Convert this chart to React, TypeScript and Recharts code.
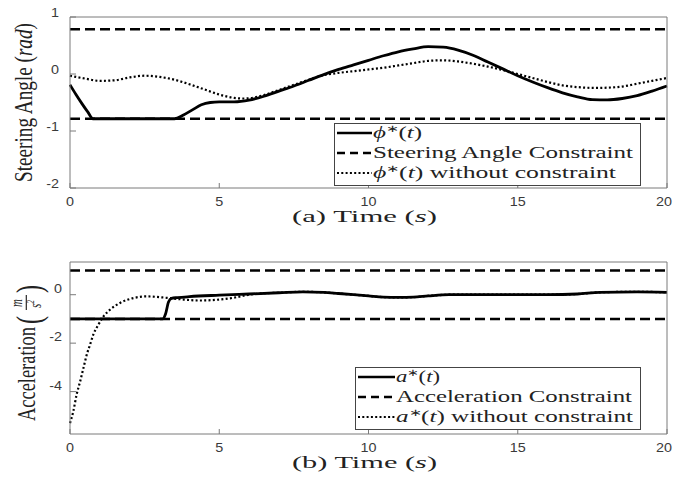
import React from 'react';
import { LineChart, Line, XAxis, YAxis, ReferenceLine, Legend } from 'recharts';

const timeTicks = [0, 5, 10, 15, 20];

// (a) steering angle, rad
const steerTime = [0, 0.2, 0.4, 0.6, 0.77, 1.5, 2.5, 3.5, 3.8, 4.1, 4.4, 4.7, 5.0, 5.5, 6.0, 6.5, 7.0, 7.5, 8.0, 8.5, 9.0, 9.5, 10.0, 10.5, 11.0, 11.5, 12.0, 12.5, 13.0, 13.5, 14.0, 14.5, 15.0, 15.5, 16.0, 16.5, 17.0, 17.5, 18.0, 18.5, 19.0, 19.5, 20.0];
const steerOpt = [-0.19, -0.36, -0.52, -0.67, -0.785, -0.785, -0.785, -0.785, -0.72, -0.63, -0.54, -0.5, -0.49, -0.49, -0.46, -0.39, -0.3, -0.21, -0.11, -0.01, 0.08, 0.16, 0.24, 0.32, 0.39, 0.44, 0.48, 0.47, 0.42, 0.33, 0.21, 0.09, -0.03, -0.14, -0.24, -0.33, -0.4, -0.45, -0.455, -0.43, -0.38, -0.3, -0.21];
const steerFreeTime = [0, 0.5, 1.0, 1.5, 2.0, 2.5, 3.0, 3.5, 4.0, 4.5, 5.0, 5.5, 5.8, 6.2, 6.5, 7.0, 7.5, 8.0, 8.5, 9.0, 9.5, 10.0, 10.5, 11.0, 11.5, 12.0, 12.5, 13.0, 13.5, 14.0, 14.5, 15.0, 15.5, 16.0, 16.5, 17.0, 17.6, 18.0, 18.5, 19.0, 19.5, 20.0];
const steerFree = [-0.03, -0.08, -0.12, -0.11, -0.06, -0.03, -0.05, -0.1, -0.18, -0.27, -0.36, -0.42, -0.43, -0.41, -0.37, -0.28, -0.19, -0.1, -0.02, 0.02, 0.05, 0.08, 0.11, 0.15, 0.19, 0.23, 0.24, 0.22, 0.18, 0.13, 0.07, 0.0, -0.07, -0.14, -0.2, -0.23, -0.245, -0.24, -0.22, -0.17, -0.12, -0.07];
const steerLimits = [0.785, -0.785];
const steerTicks = [-2, -1, 0, 1];

// (b) acceleration, m/s^2
const accTime = [0, 3.1, 3.2, 3.3, 3.4, 3.6, 4.0, 5.0, 6.0, 7.0, 7.8, 8.5, 9.0, 10.0, 10.5, 11.0, 11.5, 12.0, 12.7, 14.0, 16.0, 17.0, 17.75, 19.0, 20.0];
const accOpt = [-1, -1, -0.8, -0.3, -0.15, -0.12, -0.08, -0.02, 0.03, 0.08, 0.12, 0.1, 0.05, -0.05, -0.1, -0.11, -0.1, -0.05, 0, 0, 0, 0.03, 0.1, 0.12, 0.1];
const accFreeTime = [0, 0.11, 0.22, 0.34, 0.45, 0.56, 0.67, 0.78, 0.95, 1.12, 1.34, 1.68, 2.12, 2.57, 3.25, 3.8, 4.36, 5.0, 5.46, 6.0, 6.5, 7.0, 7.8, 8.5, 9.0, 10.0, 10.5, 11.0, 11.5, 12.0, 12.7, 14.0, 16.0, 17.0, 17.75, 19.0, 20.0];
const accFree = [-5.3, -4.82, -4.13, -3.58, -3.03, -2.48, -2.07, -1.65, -1.24, -0.9, -0.62, -0.34, -0.14, -0.07, -0.13, -0.2, -0.24, -0.2, -0.13, 0.0, 0.06, 0.08, 0.12, 0.1, 0.05, -0.05, -0.1, -0.11, -0.1, -0.05, 0, 0, 0, 0.03, 0.1, 0.12, 0.1];
const accLimits = [1, -1];
const accTicks = [-4, -2, 0];

const zip = (ts: number[], vs: number[]) => ts.map((t, i) => ({ t, v: vs[i] }));

const AXIS = '#7a7a7a';
const TXT = '#3a3a3a';
const INK = '#222';
const SANS = '"Liberation Sans", Arial, sans-serif';
const SERIF = '"Liberation Serif", "Times New Roman", serif';
const DASH = '10 5';
const DOT = '2 2.3';

const BottomTick = ({ x, y, payload }: any) => {
  // the last label sits on the page edge, nudge it in a little
  const dx = payload.value === 20 ? -3 : 0;
  return (
    <g>
      <line x1={x} y1={y} x2={x} y2={y - 5} stroke={AXIS} />
      <text transform={`translate(${x + dx} ${y + 18}) scale(1.15 1)`} textAnchor="middle" fontFamily={SANS} fontSize={12.5} fill={TXT}>
        {payload.value}
      </text>
    </g>
  );
};
const TopTick = ({ x, y }: any) => <line x1={x} y1={y} x2={x} y2={y + 5} stroke={AXIS} />;
const leftTick = (gap: number, lift: number) => ({ x, y, payload }: any) => (
  <g>
    <line x1={x} y1={y} x2={x + 6} y2={y} stroke={AXIS} />
    <text transform={`translate(${x - gap} ${y - lift}) scale(1.15 1)`} textAnchor="end" fontFamily={SANS} fontSize={12.5} fill={TXT}>
      {payload.value}
    </text>
  </g>
);
const RightTick = ({ x, y }: any) => <line x1={x} y1={y} x2={x - 6} y2={y} stroke={AXIS} />;

const xTitle = (tag: string) => (props: any) => {
  const { x, y, width } = props.viewBox;
  return (
    <text x={x + width / 2 - 4} y={y + 34} textAnchor="middle" textLength={145} lengthAdjust="spacingAndGlyphs" fontFamily={SERIF} fontSize={16} fill={INK}>
      ({tag}) Time (<tspan fontStyle="italic">s</tspan>)
    </text>
  );
};

const SteerTitle = (props: any) => {
  const { y, height } = props.viewBox;
  return (
    <g transform={`translate(32 ${y + height / 2}) rotate(-90) scale(1 1.45)`}>
      <text x={0} y={0} textAnchor="middle" textLength={159} lengthAdjust="spacingAndGlyphs" fontFamily={SERIF} fontSize={18} fill={INK}>
        Steering Angle (<tspan fontStyle="italic">rad</tspan>)
      </text>
    </g>
  );
};

const AccTitle = (props: any) => {
  const { y, height } = props.viewBox;
  return (
    <g transform={`translate(35 ${y + height / 2 + 2}) rotate(-90) scale(1 1.45)`} fontFamily={SERIF} fill={INK}>
      <text x={-71} y={0} textLength={94} lengthAdjust="spacingAndGlyphs" fontSize={18}>Acceleration</text>
      <text x={26} y={4} fontSize={24}>(</text>
      <text x={47} y={-9} fontSize={11} fontStyle="italic" textAnchor="middle">m</text>
      <line x1={40} x2={55} y1={-6} y2={-6} stroke={INK} strokeWidth={0.8} />
      <text x={46} y={4} fontSize={11} fontStyle="italic" textAnchor="middle">
        s<tspan fontSize={7.5} dy={-4.5}>2</tspan>
      </text>
      <text x={57} y={4} fontSize={24}>)</text>
    </g>
  );
};

type Row = { dash?: string; label: React.ReactNode; w: number };

const legendBox = (rows: Row[], boxW: number, lineX: [number, number], textX: number) => () => (
  <svg width={boxW} height={63} style={{ display: 'block' }}>
    <rect x={0.5} y={0.5} width={boxW - 1} height={62} fill="#fff" stroke="#444" strokeWidth={1} />
    {rows.map((r, i) => (
      <g key={i}>
        <line x1={lineX[0]} x2={lineX[1]} y1={10 + i * 20} y2={10 + i * 20} stroke="#000" strokeWidth={r.dash === DOT ? 2.2 : 2.5} strokeDasharray={r.dash} />
        <text x={textX} y={15 + i * 20} textLength={r.w} lengthAdjust="spacingAndGlyphs" fontFamily={SERIF} fontSize={16} fill={INK}>
          {r.label}
        </text>
      </g>
    ))}
  </svg>
);

const star = (sym: string) => (
  <>
    <tspan fontStyle="italic">{sym}</tspan>
    <tspan fontSize={10} dy={-6}>∗</tspan>
    <tspan dy={6}>(</tspan>
    <tspan fontStyle="italic">t</tspan>)
  </>
);

const steerRows: Row[] = [
  { label: star('ϕ'), w: 49 },
  { dash: '8 5', label: 'Steering Angle Constraint', w: 260 },
  { dash: DOT, label: <>{star('ϕ')} without constraint</>, w: 243 },
];
const accRows: Row[] = [
  { label: star('a'), w: 44 },
  { dash: '8 5', label: 'Acceleration Constraint', w: 236 },
  { dash: DOT, label: <>{star('a')} without constraint</>, w: 237 },
];

type PanelProps = {
  height: number;
  bottomH: number;
  domain: [number, number];
  ticks: number[];
  limits: number[];
  opt: { t: number; v: number }[];
  free: { t: number; v: number }[];
  tag: string;
  yTitle: any;
  tickGap: number;
  tickLift: number;
  legend: () => React.ReactNode;
  legendPos: { left: number; top: number; width: number };
};

function Panel(p: PanelProps) {
  return (
    <LineChart width={673} height={p.height} margin={{ top: 16, right: 5, bottom: 0, left: 0 }}>
      <XAxis dataKey="t" type="number" domain={[0, 20]} ticks={timeTicks} interval={0} height={p.bottomH}
        stroke={AXIS} tickLine={false} tickSize={0} tickMargin={0} tick={<BottomTick />} label={{ content: xTitle(p.tag) }} />
      <XAxis xAxisId="top" orientation="top" dataKey="t" type="number" domain={[0, 20]} ticks={timeTicks} interval={0} height={1}
        stroke={AXIS} tickLine={false} tickSize={0} tickMargin={0} tick={<TopTick />} />
      <YAxis type="number" domain={p.domain} ticks={p.ticks} interval={0} width={70} allowDataOverflow
        stroke={AXIS} tickLine={false} tickSize={0} tickMargin={0} tick={leftTick(p.tickGap, p.tickLift)} label={{ content: p.yTitle }} />
      <YAxis yAxisId="right" orientation="right" type="number" domain={p.domain} ticks={p.ticks} interval={0} width={1}
        stroke={AXIS} tickLine={false} tickSize={0} tickMargin={0} tick={<RightTick />} />
      {p.limits.map((v) => (
        <ReferenceLine key={v} y={v} stroke="#000" strokeWidth={2.5} strokeDasharray={DASH} />
      ))}
      <Line data={p.opt} dataKey="v" type="monotone" stroke="#000" strokeWidth={2.8} dot={false} activeDot={false} isAnimationActive={false} />
      <Line data={p.free} dataKey="v" type="monotone" stroke="#000" strokeWidth={2.2} strokeDasharray={DOT} dot={false} activeDot={false} isAnimationActive={false} />
      <Legend layout="horizontal" verticalAlign="middle" align="center" content={p.legend}
        wrapperStyle={{ left: p.legendPos.left, top: p.legendPos.top, width: p.legendPos.width, height: 63, bottom: 'auto', right: 'auto' }} />
    </LineChart>
  );
}

export default function App() {
  return (
    <div style={{ position: 'absolute', left: 0, top: 0, width: 673, height: 485, background: '#fff' }}>
      <Panel height={245} bottomH={57} domain={[-2, 1]} ticks={steerTicks} limits={steerLimits}
        opt={zip(steerTime, steerOpt)} free={zip(steerFreeTime, steerFree)} tag="a" yTitle={SteerTitle}
        tickGap={11} tickLift={0}
        legend={legendBox(steerRows, 307, [3, 38], 39)} legendPos={{ left: 334, top: 123, width: 307 }} />
      <Panel height={240} bottomH={51} domain={[-5.75, 1.35]} ticks={accTicks} limits={accLimits}
        opt={zip(accTime, accOpt)} free={zip(accFreeTime, accFree)} tag="b" yTitle={AccTitle}
        tickGap={8} tickLift={2}
        legend={legendBox(accRows, 286, [3, 40], 41)} legendPos={{ left: 355, top: 122, width: 286 }} />
    </div>
  );
}
